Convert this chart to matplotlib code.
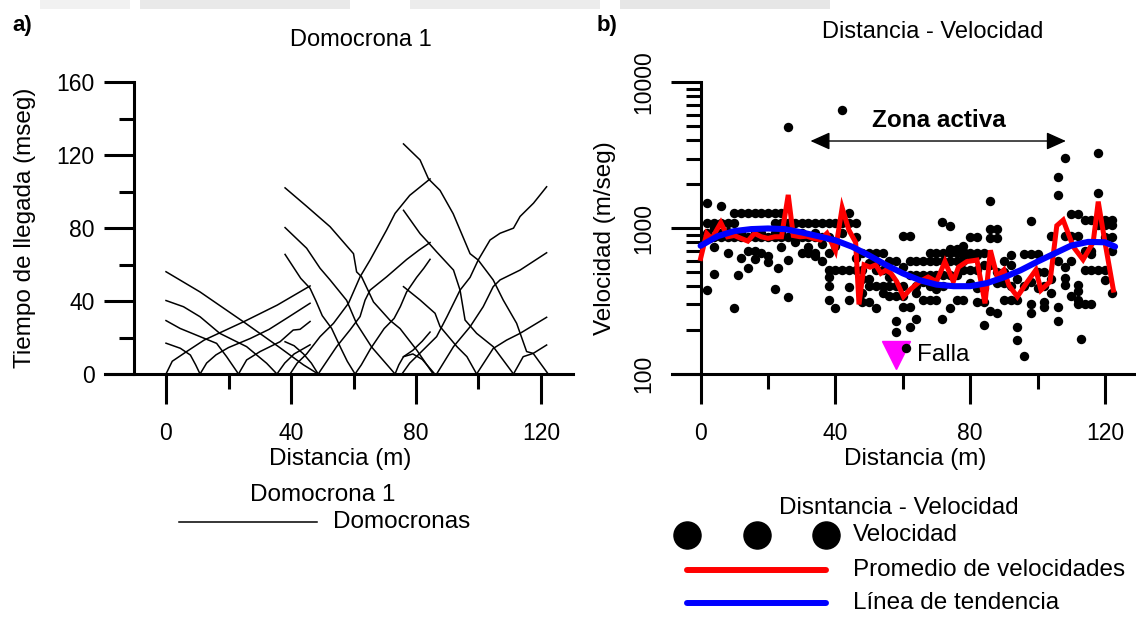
import matplotlib
matplotlib.use("Agg")
import matplotlib.pyplot as plt
from matplotlib.lines import Line2D
from matplotlib.patches import Rectangle
from matplotlib.ticker import NullFormatter

# ── Figure geometry (pixels of the 1136x617 output) ─────────────────────────
W, H = 1136, 617
plt.rcParams["font.family"] = ["Liberation Sans", "DejaVu Sans"]

FS_TICK = 16.5
FS_LABEL = 17.5
FS_TITLE = 17


def fx(px):
    return px / W


def fy(py):
    return 1 - py / H


# ── a) Domocronas: arrival time (ms) vs distance (m), one list pair per curve ─
# spread 1 (0-46 m)
S1_X = [
    [0, 2, 6.6, 12.2, 24.9, 35.6, 46.1],
    [10.9, 9.5, 7.8, 4.6, 0],
    [10.9, 13, 16, 20, 27, 33, 39, 46.1],
    [23.2, 19.4, 16.2, 10.9, 4.5, 0],
    [23.2, 25.8, 30.1, 36.5, 40.7, 42.9, 46.1],
    [35.5, 32.2, 25.8, 17.2, 10.9, 5.6, 0],
    [35.5, 38, 41, 46.1],
    [48.7, 44, 36, 24.9, 10.9, 0],
]
S1_T = [
    [0, 7, 12.3, 18.6, 28.7, 37.8, 48.3],
    [0, 5, 10.4, 14.1, 16.9],
    [0, 6, 10.5, 14.5, 19.5, 24.5, 31, 38.8],
    [0, 9.5, 16.8, 20.5, 25, 29.3],
    [0, 7.7, 12.3, 17.7, 24.1, 24.5, 28.8],
    [0, 5.9, 15, 22.3, 31.4, 36.9, 40.3],
    [0, 6, 11, 16],
    [0, 5, 15, 28.5, 45, 56.1],
]
# spread 2 (38-85 m)
S2_X = [
    [38.1, 45, 52.5, 60, 61, 62.6, 66.4, 71.7, 74.9, 80.2, 85.5],
    [38.1, 45, 49.3, 52.5, 57.8, 61, 65.8, 73.3],
    [38.1, 41, 43.1, 46.1, 48, 50, 53, 56, 58, 60.5],
    [38.1, 41, 44, 46.5, 48.7],
    [39.7, 42, 45, 49.3, 53.6, 58.4, 62.1, 65.3, 70.6, 73.3, 78, 84.5],
    [48.7, 54.6, 58.9, 62.1, 63.7, 65.3, 70.6, 77, 81, 84.5],
    [60.5, 62.5, 65.5, 69.8, 73, 75, 77, 80.2, 82.5, 84.5],
    [73.3, 74.5, 76, 79, 82, 84.5],
]
S2_T = [
    [102.1, 92, 80.8, 66, 56, 53.3, 39.5, 29.4, 24.9, 13.2, 0],
    [80.3, 69, 58, 51.6, 40.4, 27.6, 14.8, 0],
    [65.6, 58, 52.5, 47, 40, 32, 25, 14, 7, 0],
    [17.7, 15.5, 11, 6, 0],
    [0, 6, 11, 20.5, 27.8, 38.8, 53.3, 62.5, 79, 88.1, 98, 107],
    [0, 15, 24.2, 31.5, 40.5, 46, 53.3, 62.8, 68, 72.1],
    [0, 5, 14, 24.9, 30.5, 37, 45, 53, 58, 62.9],
    [0, 5, 9.5, 13, 18, 23],
]
# spread 3 (76-122 m)
S3_X = [
    [76, 81.3, 84, 87.7, 91.9, 97.3, 99.9, 104.7, 107.9, 112.2, 115.4, 117.5, 122.3],
    [76, 81.3, 84, 86.6, 92, 94.1, 95.7, 99.4, 104.7, 111.2],
    [76, 81.3, 86.1, 87.7, 93.1, 96.3, 99.4],
    [76, 79, 82, 84, 86],
    [75.5, 78, 81, 86.6, 89.9, 94.1, 97.3, 99.9, 103.7, 106.9, 111.2, 113.3, 117.6, 121.8],
    [86.6, 92, 97.3, 101.5, 104.7, 106.9, 113.3, 121.8],
    [99.4, 104.7, 109, 113.3, 121.8],
    [111.2, 114.3, 117.5, 121.8],
]
S3_T = [
    [126.2, 117.4, 107, 100.7, 87.9, 66, 62.5, 51.6, 40.6, 27.8, 12.3, 11.3, 0],
    [89.8, 77, 72, 67, 57, 46, 29.6, 22.3, 15, 0],
    [47.9, 40.6, 33.3, 26, 15, 9.5, 0],
    [9.5, 11, 8, 4, 0],
    [0, 6, 11, 20.5, 31.4, 46, 53, 62.5, 73.5, 77.2, 80, 86.4, 93.7, 102.7],
    [0, 15, 25.9, 36.9, 47.9, 51.6, 57, 66.5],
    [0, 14, 18.6, 22.3, 31.1],
    [0, 9.5, 11.3, 15.9],
]

# ── b) Distancia - Velocidad ─────────────────────────────────────────────────
DOT_X = [
    2, 2, 2, 2, 2, 4, 4, 4, 4, 4, 6, 6, 6, 6, 8, 8, 8, 8, 10, 10, 10, 10, 11,
    12, 12, 12, 12, 14, 14, 14, 14, 16, 16, 16, 16, 16, 18, 18, 18, 18,
    20, 20, 20, 20, 22, 22, 22, 22, 22, 23, 24, 24, 24, 24, 24,
    26, 26, 26, 26, 26, 28, 28, 28, 28, 30, 30, 30, 30,
    32, 32, 32, 32, 34, 34, 34, 34, 34, 36, 36, 36, 36,
    38, 38, 38, 38, 38, 38, 38, 40, 40, 40, 40, 42, 42, 42, 42,
    44, 44, 44, 44, 44, 46, 46, 46, 46, 48, 48, 48, 48, 48,
    50, 50, 50, 50, 50, 52, 52, 52, 52, 52, 54, 54, 54, 54,
    56, 56, 56, 56, 58, 58, 58, 58, 58, 60, 60, 60, 60, 60, 61,
    62, 62, 62, 62, 62, 64, 64, 64, 64, 64, 66, 66, 66, 66,
    68, 68, 68, 68, 68, 70, 70, 70, 70, 70, 71.5, 71.5, 72, 72, 72, 72,
    74, 74, 74, 74, 74, 74, 76, 76, 76, 76, 76, 78, 78, 78, 78, 78, 78,
    80, 80, 80, 80, 80, 82, 82, 82, 82, 82, 82, 84, 84, 84, 84, 84,
    86, 86, 86, 86, 86, 88, 88, 88, 88, 88, 90, 90, 90, 90, 92, 92, 92, 92,
    94, 94, 94, 94, 96, 96, 96, 98, 98, 98, 98, 98, 100, 100, 100,
    102, 102, 102, 102, 104, 104, 104, 106, 106, 106, 106, 106,
    108, 108, 108, 108, 108, 110, 110, 110, 110, 112, 112, 112, 112, 112, 112, 113,
    114, 114, 114, 114, 116, 116, 116, 116, 116, 118, 118, 118, 118, 118,
    120, 120, 120, 120, 120, 120, 122, 122, 122, 122, 122,
]
DOT_V = [
    1493, 1079, 870, 376, 930, 1079, 870, 745, 482, 1010, 1420, 1079, 870, 930,
    1079, 870, 671, 940, 1264, 1079, 870, 284, 475,
    1264, 870, 620, 930, 1264, 870, 700, 530, 1264, 870, 700, 610, 930,
    1264, 870, 680, 930, 1264, 870, 640, 590, 1264, 1079, 870, 385, 930, 535,
    1264, 1079, 870, 745, 930, 1079, 870, 604, 339, 4915, 1079, 870, 800, 930,
    1079, 870, 680, 930,
    1079, 870, 680, 740, 1079, 870, 680, 640, 930, 1079, 870, 600, 780,
    1079, 870, 517, 460, 400, 321, 680, 1079, 517, 284, 750, 1079, 517, 6500, 930,
    1079, 1264, 517, 395, 321, 1079, 517, 870, 620, 680, 517, 450, 310, 360,
    680, 580, 450, 310, 400, 680, 580, 400, 284, 517, 680, 517, 400, 360,
    600, 460, 400, 340, 600, 400, 230, 195, 340, 540, 400, 290, 340, 880, 150,
    880, 210, 290, 600, 480, 600, 480, 240, 360, 400, 600, 480, 320, 430,
    600, 480, 320, 400, 680, 600, 480, 320, 680, 380, 1100, 240, 600, 480, 680, 400,
    1040, 600, 680, 284, 480, 720, 600, 480, 680, 720, 320, 650, 700, 760, 600, 520, 320,
    680, 650, 520, 420, 870, 680, 650, 870, 520, 390, 310, 680, 390, 310, 218, 560,
    990, 860, 1541, 560, 270, 990, 860, 500, 260, 420, 500, 420, 320, 600,
    560, 320, 400, 650, 320, 211, 170, 450, 660, 133, 400,
    1119, 660, 430, 300, 260, 660, 390, 500, 500, 310, 290, 400, 880, 450, 360,
    2253, 1679, 290, 230, 600, 3010, 455, 410, 880, 540, 1250, 880, 340, 600,
    1250, 880, 370, 320, 300, 410, 175, 1130, 700, 300, 520,
    1130, 700, 660, 520, 300, 3258, 1733, 1130, 520, 1050,
    1130, 870, 830, 520, 440, 1050, 1130, 870, 361, 1050, 700,
]

AVG_X = [0, 1.8, 3.3, 6, 8, 10, 12, 14, 16, 18, 20, 22, 24, 26, 27.5, 29.5,
         31.5, 33.5, 35.5, 37.5, 40, 42, 44, 46, 47, 48.5, 50.3, 52, 53.5,
         55, 56.5, 58.2, 60.2, 62, 65, 67.5, 70, 72.5, 75, 76.5, 79, 82,
         84.4, 86, 88, 90, 91.5, 94, 97, 99.5, 101, 103.7, 105.7, 107.6,
         110.6, 113.5, 116.5, 118, 120, 122.5]
AVG_V = [620, 920, 845, 1090, 873, 890, 851, 815, 921, 873, 851, 873, 873,
         1690, 890, 873, 880, 851, 830, 921, 700, 1380, 970, 800, 300, 560,
         540, 560, 490, 515, 490, 430, 339, 376, 430, 462, 430, 590, 430,
         540, 590, 604, 305, 705, 466, 517, 405, 339, 430, 517, 376, 430,
         1040, 1136, 745, 608, 800, 1520, 800, 376]

TREND_X = [0, 5, 10, 15, 20, 25, 30, 35, 40, 45, 50, 55, 60, 65, 70, 75, 80,
           85, 90, 95, 100, 105, 110, 115, 120, 123]
TREND_V = [757, 880, 955, 985, 995, 985, 935, 880, 825, 745, 650, 560, 490,
           440, 410, 400, 400, 420, 460, 515, 590, 670, 760, 805, 800, 747]

FAULT_X, FAULT_V = 58, 134
ZONE_X0, ZONE_X1, ZONE_V = 32.6, 108.4, 3958

SPINE_LW = 2.2


def style_axes(ax, left_at):
    for s in ("top", "right"):
        ax.spines[s].set_visible(False)
    ax.spines["left"].set_position(("data", left_at))
    for s in ("left", "bottom"):
        ax.spines[s].set_linewidth(SPINE_LW)
    ax.patch.set_alpha(0)
    ax.tick_params(which="major", length=21.6, width=SPINE_LW, labelsize=FS_TICK)
    ax.tick_params(which="minor", length=10.8, width=SPINE_LW)
    ax.tick_params(axis="x", which="major", pad=13)


fig = plt.figure(figsize=(W / 100, H / 100), dpi=100)

# faint grey strip along the top edge of the screenshot
for x0, x1, c in ((40, 130, "#f1f1f1"), (140, 350, "#e9e9e9"),
                  (410, 600, "#ececec"), (620, 830, "#e6e6e6")):
    fig.add_artist(Rectangle((fx(x0), fy(9)), (x1 - x0) / W, 9 / H,
                             transform=fig.transFigure, color=c, lw=0))

# ── a) ───────────────────────────────────────────────────────────────────────
axA = fig.add_axes([fx(105), fy(374), (573 - 105) / W, (374 - 82.3) / H])
for xs_group, ts_group in ((S1_X, S1_T), (S2_X, S2_T), (S3_X, S3_T)):
    for xs, ts in zip(xs_group, ts_group):
        axA.plot(xs, ts, color="black", lw=1.1, solid_joinstyle="round")
axA.set_xlim(-19.52, 130.24)
axA.set_ylim(0, 160)
style_axes(axA, -10.2)
axA.set_xticks([0, 40, 80, 120])
axA.set_xticks([20, 60, 100], minor=True)
axA.set_yticks([0, 40, 80, 120, 160])
axA.set_yticks([20, 60, 100, 140], minor=True)
axA.tick_params(axis="y", which="major", pad=7)

fig.text(fx(25), fy(228), "Tiempo de llegada (mseg)", rotation=90,
         ha="center", va="center", fontsize=FS_LABEL)
fig.text(fx(340), fy(459), "Distancia (m)", ha="center", va="center", fontsize=FS_LABEL)
fig.text(fx(361), fy(40), "Domocrona 1", ha="center", va="center", fontsize=FS_TITLE)
fig.text(fx(12), fy(25), "a)", ha="left", va="center", fontsize=16, fontweight="bold")

# ── b) ───────────────────────────────────────────────────────────────────────
axB = fig.add_axes([fx(671.5), fy(374), (1135.3 - 671.5) / W, (374 - 82.3) / H])
axB.set_yscale("log")
axB.plot([FAULT_X], [FAULT_V], marker="v", ms=20, color="#ff00ff",
         ls="none", clip_on=False, zorder=1)
axB.scatter(DOT_X, DOT_V, s=46, color="black", linewidths=0, zorder=2, clip_on=False)
axB.plot(AVG_X, AVG_V, color="#ff0000", lw=3.6, zorder=3, solid_joinstyle="miter")
axB.plot(TREND_X, TREND_V, color="#0000ff", lw=4.4, zorder=4, solid_capstyle="round")
axB.set_xlim(-8.64, 129)
axB.set_ylim(100, 10000)
style_axes(axB, 0)
axB.set_xticks([0, 40, 80, 120])
axB.set_xticks([20, 60, 100], minor=True)
axB.set_yticks([100, 1000, 10000])
axB.set_yticklabels(["100", "1000", "10000"])
axB.yaxis.set_minor_formatter(NullFormatter())
axB.tick_params(axis="y", which="major", pad=11)
for lab in axB.get_yticklabels():
    lab.set_rotation(90)
    lab.set_va("center")

axB.annotate("", xy=(ZONE_X0, ZONE_V), xytext=(ZONE_X1, ZONE_V),
             arrowprops=dict(arrowstyle="<|-|>,head_length=0.6,head_width=0.27",
                             mutation_scale=20, lw=1.0, color="black",
                             shrinkA=0, shrinkB=0))
axB.text((ZONE_X0 + ZONE_X1) / 2 + 0.3, 5510, "Zona activa", ha="center",
         va="center", fontsize=FS_LABEL, fontweight="bold")
axB.text(64.2, 135, "Falla", ha="left", va="center", fontsize=FS_LABEL)

fig.text(fx(605), fy(238), "Velocidad (m/seg)", rotation=90,
         ha="center", va="center", fontsize=FS_LABEL)
fig.text(fx(915), fy(459), "Distancia (m)", ha="center", va="center", fontsize=FS_LABEL)
fig.text(fx(933), fy(32), "Distancia - Velocidad", ha="center", va="center", fontsize=FS_TITLE)
fig.text(fx(597), fy(25), "b)", ha="left", va="center", fontsize=16, fontweight="bold")

# ── legends ──────────────────────────────────────────────────────────────────
fig.text(fx(323), fy(495), "Domocrona 1", ha="center", va="center", fontsize=FS_LABEL)
fig.add_artist(Line2D([fx(179), fx(317)], [fy(522), fy(522)], color="black", lw=1.1))
fig.text(fx(333), fy(522), "Domocronas", ha="left", va="center", fontsize=FS_LABEL)

fig.text(fx(899), fy(508), "Disntancia - Velocidad", ha="center", va="center",
         fontsize=FS_LABEL)
fig.add_artist(Line2D([fx(687), fx(757), fx(826)], [fy(535)] * 3, color="black",
                      marker="o", ms=19.5, ls="none"))
fig.text(fx(853), fy(535), "Velocidad", ha="left", va="center", fontsize=FS_LABEL)
fig.add_artist(Line2D([fx(687), fx(826)], [fy(570)] * 2, color="#ff0000",
                      lw=4.3, solid_capstyle="round"))
fig.text(fx(853), fy(570), "Promedio de velocidades", ha="left", va="center",
         fontsize=FS_LABEL)
fig.add_artist(Line2D([fx(687), fx(826)], [fy(603)] * 2, color="#0000ff",
                      lw=4.3, solid_capstyle="round"))
fig.text(fx(853), fy(603), "Línea de tendencia", ha="left", va="center",
         fontsize=FS_LABEL)

fig.savefig("out.png", dpi=100)
